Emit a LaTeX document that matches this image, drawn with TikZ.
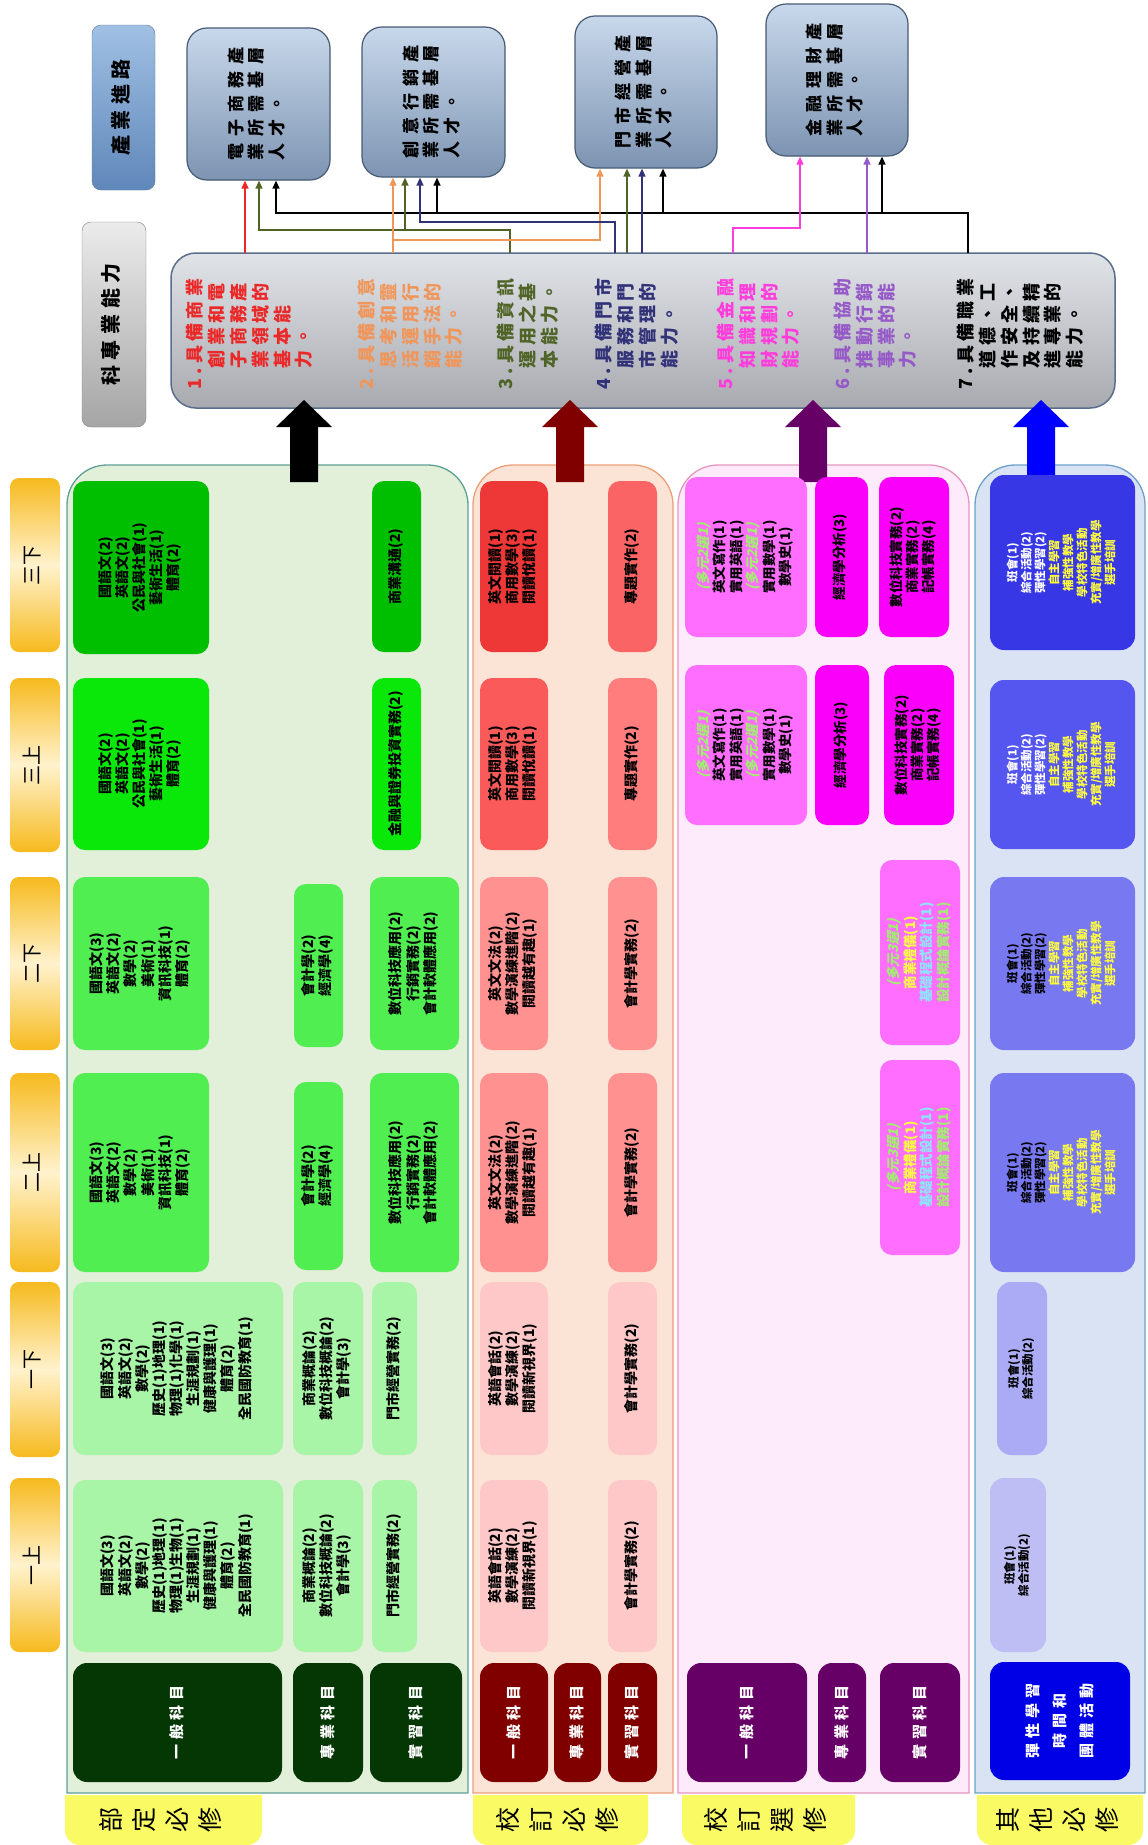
\documentclass[tikz,border=0pt]{standalone}
\usepackage{fontspec}
\setmainfont{Noto Sans CJK TC}
\newfontfamily\slcjk{Noto Sans CJK TC}[FakeSlant=0.25]
\usetikzlibrary{arrows.meta}
% colours
\definecolor{g1a}{RGB}{168,245,168}
\definecolor{g1b}{RGB}{80,238,80}
\definecolor{g1c}{RGB}{10,232,10}
\definecolor{g1d}{RGB}{0,190,0}
\definecolor{g1k}{RGB}{5,55,5}
\definecolor{g1bg}{RGB}{226,239,217}
\definecolor{g1bd}{RGB}{95,160,150}
\definecolor{g2a}{RGB}{255,200,200}
\definecolor{g2b}{RGB}{255,145,145}
\definecolor{g2c}{RGB}{250,90,90}
\definecolor{g2cs}{RGB}{255,125,125}
\definecolor{g2d}{RGB}{238,55,55}
\definecolor{g2ds}{RGB}{250,100,100}
\definecolor{g2k}{RGB}{128,0,0}
\definecolor{g2bg}{RGB}{251,228,214}
\definecolor{g2bd}{RGB}{235,160,120}
\definecolor{g3a}{RGB}{255,110,255}
\definecolor{g3b}{RGB}{250,0,250}
\definecolor{g3k}{RGB}{102,0,102}
\definecolor{g3bg}{RGB}{253,234,250}
\definecolor{g3bd}{RGB}{230,150,190}
\definecolor{g4a}{RGB}{190,190,245}
\definecolor{g4a2}{RGB}{170,170,245}
\definecolor{g4b}{RGB}{120,120,240}
\definecolor{g4c}{RGB}{85,85,240}
\definecolor{g4d}{RGB}{55,55,230}
\definecolor{g4k}{RGB}{0,0,230}
\definecolor{g4bg}{RGB}{218,227,243}
\definecolor{g4bd}{RGB}{110,160,200}
\definecolor{yel}{RGB}{250,250,100}
\definecolor{semO}{RGB}{246,186,30}
\definecolor{semL}{RGB}{255,242,205}
\definecolor{careerT}{RGB}{200,216,235}
\definecolor{careerD}{RGB}{125,148,178}
\definecolor{careerB}{RGB}{70,90,115}
\definecolor{abT}{RGB}{224,227,232}
\definecolor{abD}{RGB}{168,170,175}
\definecolor{abB}{RGB}{90,110,140}
\definecolor{t1}{RGB}{235,40,40}
\definecolor{t2}{RGB}{240,150,90}
\definecolor{t3}{RGB}{80,100,40}
\definecolor{t4}{RGB}{50,50,120}
\definecolor{t5}{RGB}{255,60,220}
\definecolor{t6}{RGB}{150,90,200}
\definecolor{ygr}{RGB}{160,240,110}
\definecolor{ylw}{RGB}{255,255,60}
\definecolor{cyn}{RGB}{140,230,255}
\definecolor{dkred}{RGB}{128,0,0}
\definecolor{dkpur}{RGB}{102,0,102}
\definecolor{blu}{RGB}{0,0,255}

\newcommand\rt[2]{\rotatebox{90}{\begin{tabular}{@{}#1@{}}#2\end{tabular}}}
\newcommand\bx[7]{\node[#6,minimum width={(#4)-(#2)},minimum height={(#5)-(#3)}] (#1) at ({((#2)+(#4))/2},{((#3)+(#5))/2}) {#7};}
\newcommand\grpbg[6]{\path[fill=#5,draw=#6,line width=1.3pt] (#1,#4) -- (#1,{#2+40}) arc[start angle=180,end angle=270,radius=40] -- ({#3-40},#2) arc[start angle=270,end angle=360,radius=40] -- (#3,#4) -- cycle;}
\newcommand\glabel[4]{\path[fill=yel] (#2,1795) -- (#3,1795) -- (#3,1830) arc[start angle=0,end angle=90,radius=15] -- ({#2+15},1845) arc[start angle=90,end angle=180,radius=15] -- cycle;
\node[glab] (#1) at ({(#2+#3)/2},1820) {\rt{c}{#4}};}
\newcommand\barrow[3]{\coordinate (#1) at (#2,400);
\fill[#3] ({#2-14},482) -- ({#2-14},427) -- ({#2-28},427) -- (#1) -- ({#2+28},427) -- ({#2+14},427) -- ({#2+14},482) -- cycle;}

\tikzset{
 crs/.style={rounded corners=12pt,inner sep=0pt,font=\fontsize{14}{17}\selectfont\bfseries,text=black},
 crs3/.style={rounded corners=12pt,inner sep=0pt,font=\fontsize{13.5}{16}\selectfont\bfseries,text=black},
 crs4/.style={rounded corners=14pt,inner sep=0pt,font=\fontsize{11.5}{13.5}\selectfont\bfseries,text=black},
 cat/.style={rounded corners=14pt,inner sep=0pt,font=\fontsize{15}{27}\selectfont\bfseries\addfontfeature{LetterSpace=33},text=white},
 sem/.style={rounded corners=9pt,inner sep=0pt,top color=semO,bottom color=semO,middle color=semL,font=\fontsize{20}{24}\selectfont},
 glab/.style={inner sep=0pt,font=\fontsize{25}{33}\selectfont},
 career/.style={draw=careerB,line width=1.2pt,rounded corners=20pt,top color=careerT,bottom color=careerD,inner sep=0pt,font=\fontsize{17}{20}\selectfont\bfseries\addfontfeature{LetterSpace=40}},
 ttl/.style={rounded corners=9pt,inner sep=0pt,font=\fontsize{20}{24}\selectfont\bfseries\addfontfeature{LetterSpace=28}},
 abt/.style={inner sep=0pt,anchor=south west,font=\fontsize{18}{21}\selectfont\bfseries\addfontfeature{LetterSpace=24}},
 conn/.style={line width=1.4pt,-{Triangle[length=8pt,width=7pt]}}
}

\begin{document}
\begin{tikzpicture}[x=1pt,y=-1pt]
\useasboundingbox (0,0) rectangle (1148,1845);
\fill[white] (0,0) rectangle (1148,1845);

% ---------- titles
\bx{tCareer}{92}{25}{155}{190}{ttl,draw={rgb,255:red,100;green,120;blue,150},top color={rgb,255:red,160;green,192;blue,228},bottom color={rgb,255:red,95;green,135;blue,185}}{\rt{c}{產業進路}}
\bx{tAbil}{82}{222}{146}{427}{ttl,draw={rgb,255:red,130;green,130;blue,130},top color={rgb,255:red,235;green,235;blue,235},bottom color={rgb,255:red,165;green,165;blue,165}}{\rt{c}{科專業能力}}

% ---------- career boxes
\bx{c1}{187}{28}{330}{180}{career}{\rt{l}{電子商務產\\業所需基層\\人才。}}
\bx{c2}{362}{27}{505}{177}{career}{\rt{l}{創意行銷產\\業所需基層\\人才。}}
\bx{c3}{575}{16}{717}{168}{career}{\rt{l}{門市經營產\\業所需基層\\人才。}}
\bx{c4}{766}{4}{908}{156}{career}{\rt{l}{金融理財產\\業所需基層\\人才。}}

% ---------- abilities box
\bx{abil}{171}{253}{1115}{408}{draw=abB,line width=1.5pt,rounded corners=25pt,top color=abT,bottom color=abD,inner sep=0pt}{}
\node[abt,text=t1] (ab1) at (186,390) {\rt{l}{1.具備商業\\\phantom{1.}創業和電\\\phantom{1.}子商務產\\\phantom{1.}業領域的\\\phantom{1.}基本能\\\phantom{1.}力。}};
\node[abt,text=t2] (ab2) at (358,390) {\rt{l}{2.具備創意\\\phantom{2.}思考和靈\\\phantom{2.}活運用行\\\phantom{2.}銷手法的\\\phantom{2.}能力。}};
\node[abt,text=t3] (ab3) at (497,390) {\rt{l}{3.具備資訊\\\phantom{3.}運用之基\\\phantom{3.}本能力。}};
\node[abt,text=t4] (ab4) at (595,390) {\rt{l}{4.具備門市\\\phantom{4.}服務和門\\\phantom{4.}市管理的\\\phantom{4.}能力。}};
\node[abt,text=t5] (ab5) at (717,390) {\rt{l}{5.具備金融\\\phantom{5.}知識和理\\\phantom{5.}財規劃的\\\phantom{5.}能力。}};
\node[abt,text=t6] (ab6) at (834,390) {\rt{l}{6.具備協助\\\phantom{6.}推動行銷\\\phantom{6.}事業的能\\\phantom{6.}力。}};
\node[abt,text=black] (ab7) at (957,390) {\rt{l}{7.具備職業\\\phantom{7.}道德、工\\\phantom{7.}作安全、\\\phantom{7.}及持續精\\\phantom{7.}進專業的\\\phantom{7.}能力。}};

% ---------- connectors
\coordinate (r1) at (245,253);
\coordinate (o1) at (510,253); \coordinate (oj) at (259,230); \coordinate (ob2) at (405,230);
\coordinate (k1) at (968,253); \coordinate (kj) at (276,213); \coordinate (kb2) at (437,213); \coordinate (kb3) at (663,213); \coordinate (kb4) at (882,213);
\coordinate (g1) at (393,253); \coordinate (gj) at (600,240);
\coordinate (n1) at (615,253); \coordinate (nj) at (420,222);
\coordinate (o2) at (627,253); \coordinate (n2) at (642,253);
\coordinate (m1) at (733,253); \coordinate (mj) at (800,228);
\coordinate (u1) at (867,253);
\draw[conn,t1] (r1) -- (r1 |- c1.south);
\draw[conn,black] (k1) |- (kj) -- (kj |- c1.south);
\draw[conn,black] (kb2) -- (kb2 |- c2.south);
\draw[conn,black] (kb3) -- (kb3 |- c3.south);
\draw[conn,black] (kb4) -- (kb4 |- c4.south);
\draw[conn,t3] (o1) |- (oj) -- (oj |- c1.south);
\draw[conn,t3] (ob2) -- (ob2 |- c2.south);
\draw[conn,t2] (g1) -- (g1 |- c2.south);
\draw[conn,t2] (g1 |- gj) -- (gj) -- (gj |- c3.south);
\draw[conn,t4] (n1) |- (nj) -- (nj |- c2.south);
\draw[conn,t3] (o2) -- (o2 |- c3.south);
\draw[conn,t4] (n2) -- (n2 |- c3.south);
\draw[conn,t5] (m1) |- (mj) -- (mj |- c4.south);
\draw[conn,t6] (u1) -- (u1 |- c4.south);

% ---------- group backgrounds
\grpbg{67}{465}{468}{1793}{g1bg}{g1bd}
\grpbg{473}{465}{673}{1793}{g2bg}{g2bd}
\grpbg{678}{465}{969}{1793}{g3bg}{g3bd}
\grpbg{975}{465}{1145}{1793}{g4bg}{g4bd}

% ---------- big arrows
\barrow{A1}{304}{black}
\barrow{A2}{570}{dkred}
\barrow{A3}{813}{dkpur}
\barrow{A4}{1041}{blu}

% ---------- group labels
\glabel{L1}{65}{262}{部\\定\\必\\修}
\glabel{L2}{473}{648}{校\\訂\\必\\修}
\glabel{L3}{682}{855}{校\\訂\\選\\修}
\glabel{L4}{977}{1143}{其\\他\\必\\修}

% ---------- semester labels
\bx{sm1}{10}{1478}{60}{1652}{sem}{\rt{c}{一上}}
\bx{sm2}{10}{1282}{60}{1457}{sem}{\rt{c}{一下}}
\bx{sm3}{10}{1073}{60}{1272}{sem}{\rt{c}{二上}}
\bx{sm4}{10}{877}{60}{1050}{sem}{\rt{c}{二下}}
\bx{sm5}{10}{678}{60}{852}{sem}{\rt{c}{三上}}
\bx{sm6}{10}{478}{60}{652}{sem}{\rt{c}{三下}}

% ---------- group 1 courses
\bx{d11}{73}{1480}{283}{1652}{crs,fill=g1a}{\rt{c}{國語文(3)\\英語文(2)\\數學(2)\\歷史(1)地理(1)\\物理(1)生物(1)\\生涯規劃(1)\\健康與護理(1)\\體育(2)\\全民國防教育(1)}}
\bx{d12}{73}{1282}{283}{1455}{crs,fill=g1a}{\rt{c}{國語文(3)\\英語文(2)\\數學(2)\\歷史(1)地理(1)\\物理(1)化學(1)\\生涯規劃(1)\\健康與護理(1)\\體育(2)\\全民國防教育(1)}}
\bx{d13}{73}{1073}{209}{1272}{crs,fill=g1b}{\rt{c}{國語文(3)\\英語文(2)\\數學(2)\\美術(1)\\資訊科技(1)\\體育(2)}}
\bx{d14}{73}{877}{209}{1050}{crs,fill=g1b}{\rt{c}{國語文(3)\\英語文(2)\\數學(2)\\美術(1)\\資訊科技(1)\\體育(2)}}
\bx{d15}{73}{678}{209}{850}{crs,fill=g1c}{\rt{c}{國語文(2)\\英語文(2)\\公民與社會(1)\\藝術生活(1)\\體育(2)}}
\bx{d16}{73}{481}{209}{654}{crs,fill=g1d}{\rt{c}{國語文(2)\\英語文(2)\\公民與社會(1)\\藝術生活(1)\\體育(2)}}
\bx{p11}{293}{1480}{363}{1652}{crs,fill=g1a}{\rt{c}{商業概論(2)\\數位科技概論(2)\\會計學(3)}}
\bx{p12}{293}{1282}{363}{1455}{crs,fill=g1a}{\rt{c}{商業概論(2)\\數位科技概論(2)\\會計學(3)}}
\bx{p13}{294}{1082}{343}{1270}{crs,fill=g1b}{\rt{c}{會計學(2)\\經濟學(4)}}
\bx{p14}{294}{884}{343}{1047}{crs,fill=g1b}{\rt{c}{會計學(2)\\經濟學(4)}}
\bx{s11}{372}{1480}{417}{1652}{crs,fill=g1a}{\rt{c}{門市經營實務(2)}}
\bx{s12}{372}{1282}{417}{1455}{crs,fill=g1a}{\rt{c}{門市經營實務(2)}}
\bx{s13}{370}{1073}{459}{1272}{crs,fill=g1b}{\rt{c}{數位科技應用(2)\\行銷實務(2)\\會計軟體應用(2)}}
\bx{s14}{370}{877}{459}{1050}{crs,fill=g1b}{\rt{c}{數位科技應用(2)\\行銷實務(2)\\會計軟體應用(2)}}
\bx{s15}{372}{678}{421}{850}{crs,fill=g1c}{\rt{c}{金融與證券投資實務(2)}}
\bx{s16}{372}{481}{421}{652}{crs,fill=g1d}{\rt{c}{商業溝通(2)}}
\bx{k11}{73}{1663}{282}{1782}{cat,fill=g1k}{\rt{c}{一般科目}}
\bx{k12}{293}{1663}{363}{1782}{cat,fill=g1k}{\rt{c}{專業科目}}
\bx{k13}{370}{1663}{462}{1782}{cat,fill=g1k}{\rt{c}{實習科目}}

% ---------- group 2 courses
\bx{e11}{480}{1480}{548}{1652}{crs,fill=g2a}{\rt{c}{英語會話(2)\\數學演練(2)\\閱讀新視界(1)}}
\bx{e12}{480}{1282}{548}{1455}{crs,fill=g2a}{\rt{c}{英語會話(2)\\數學演練(2)\\閱讀新視界(1)}}
\bx{e13}{480}{1073}{548}{1272}{crs,fill=g2b}{\rt{c}{英文文法(2)\\數學演練進階(2)\\閱讀越有趣(1)}}
\bx{e14}{480}{877}{548}{1050}{crs,fill=g2b}{\rt{c}{英文文法(2)\\數學演練進階(2)\\閱讀越有趣(1)}}
\bx{e15}{480}{678}{548}{850}{crs,fill=g2c}{\rt{c}{英文閱讀(1)\\商用數學(3)\\閱讀悅讀(1)}}
\bx{e16}{480}{481}{548}{652}{crs,fill=g2d}{\rt{c}{英文閱讀(1)\\商用數學(3)\\閱讀悅讀(1)}}
\bx{f11}{608}{1480}{657}{1652}{crs,fill=g2a}{\rt{c}{會計學實務(2)}}
\bx{f12}{608}{1282}{657}{1455}{crs,fill=g2a}{\rt{c}{會計學實務(2)}}
\bx{f13}{608}{1073}{657}{1272}{crs,fill=g2b}{\rt{c}{會計學實務(2)}}
\bx{f14}{608}{877}{657}{1050}{crs,fill=g2b}{\rt{c}{會計學實務(2)}}
\bx{f15}{608}{678}{657}{850}{crs,fill=g2cs}{\rt{c}{專題實作(2)}}
\bx{f16}{608}{481}{657}{652}{crs,fill=g2ds}{\rt{c}{專題實作(2)}}
\bx{k21}{480}{1663}{548}{1782}{cat,fill=g2k}{\rt{c}{一般科目}}
\bx{k22}{554}{1663}{601}{1782}{cat,fill=g2k}{\rt{c}{專業科目}}
\bx{k23}{608}{1663}{657}{1782}{cat,fill=g2k}{\rt{c}{實習科目}}

% ---------- group 3 courses
\bx{h15}{685}{665}{807}{825}{crs3,fill=g3a}{\rt{c}{{\slcjk\color{ygr}(多元2選1)}\\英文寫作(1)\\實用英語(1)\\{\slcjk\color{ygr}(多元2選1)}\\實用數學(1)\\數學史(1)}}
\bx{h16}{685}{477}{807}{637}{crs3,fill=g3a}{\rt{c}{{\slcjk\color{ygr}(多元2選1)}\\英文寫作(1)\\實用英語(1)\\{\slcjk\color{ygr}(多元2選1)}\\實用數學(1)\\數學史(1)}}
\bx{i15}{815}{665}{869}{825}{crs3,fill=g3b}{\rt{c}{經濟學分析(3)}}
\bx{i16}{815}{477}{868}{637}{crs3,fill=g3b}{\rt{c}{經濟學分析(3)}}
\bx{j13}{880}{1060}{960}{1255}{crs3,fill=g3a}{\rt{c}{{\slcjk\color{ygr}(多元3選1)}\\{\color{ylw}商業禮儀(1)}\\{\color{cyn}基礎程式設計(1)}\\{\color{ygr}設計概論實務(1)}}}
\bx{j14}{880}{860}{960}{1045}{crs3,fill=g3a}{\rt{c}{{\slcjk\color{ygr}(多元3選1)}\\{\color{ylw}商業禮儀(1)}\\{\color{cyn}基礎程式設計(1)}\\{\color{ygr}設計概論實務(1)}}}
\bx{j15}{884}{665}{954}{825}{crs3,fill=g3b}{\rt{c}{數位科技實務(2)\\商業實務(2)\\記帳實務(4)}}
\bx{j16}{879}{477}{949}{637}{crs3,fill=g3b}{\rt{c}{數位科技實務(2)\\商業實務(2)\\記帳實務(4)}}
\bx{k31}{687}{1663}{807}{1782}{cat,fill=g3k}{\rt{c}{一般科目}}
\bx{k32}{818}{1663}{866}{1782}{cat,fill=g3k}{\rt{c}{專業科目}}
\bx{k33}{880}{1663}{960}{1782}{cat,fill=g3k}{\rt{c}{實習科目}}

% ---------- group 4 courses
\bx{q11}{990}{1478}{1046}{1652}{crs4,fill=g4a}{\rt{c}{班會(1)\\綜合活動(2)}}
\bx{q12}{997}{1282}{1047}{1455}{crs4,fill=g4a2}{\rt{c}{班會(1)\\綜合活動(2)}}
\bx{q13}{990}{1073}{1135}{1272}{crs4,fill=g4b}{\rt{c}{班會(1)\\綜合活動(2)\\彈性學習(2)\\{\color{ylw}自主學習}\\{\color{ylw}補強性教學}\\{\color{ylw}學校特色活動}\\{\color{ylw}充實/增廣性教學}\\{\color{ylw}選手培訓}}}
\bx{q14}{990}{877}{1135}{1050}{crs4,fill=g4b}{\rt{c}{班會(1)\\綜合活動(2)\\彈性學習(2)\\{\color{ylw}自主學習}\\{\color{ylw}補強性教學}\\{\color{ylw}學校特色活動}\\{\color{ylw}充實/增廣性教學}\\{\color{ylw}選手培訓}}}
\bx{q15}{990}{680}{1135}{849}{crs4,fill=g4c,text=white}{\rt{c}{班會(1)\\綜合活動(2)\\彈性學習(2)\\{\color{ylw}自主學習}\\{\color{ylw}補強性教學}\\{\color{ylw}學校特色活動}\\{\color{ylw}充實/增廣性教學}\\{\color{ylw}選手培訓}}}
\bx{q16}{990}{475}{1135}{650}{crs4,fill=g4d,text=white}{\rt{c}{班會(1)\\綜合活動(2)\\彈性學習(2)\\{\color{ylw}自主學習}\\{\color{ylw}補強性教學}\\{\color{ylw}學校特色活動}\\{\color{ylw}充實/增廣性教學}\\{\color{ylw}選手培訓}}}
\bx{k41}{990}{1662}{1130}{1780}{cat,fill=g4k}{\rt{c}{彈性學習\\時間和\\團體活動}}
\end{tikzpicture}
\end{document}
